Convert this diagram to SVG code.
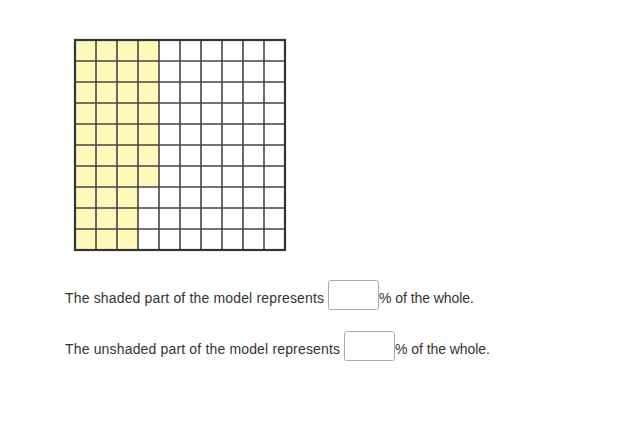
<svg xmlns="http://www.w3.org/2000/svg" width="636" height="446" viewBox="0 0 636 446">
<style>
.t{font-family:"Liberation Sans",Arial,sans-serif;font-size:14px;fill:#333}
.box{fill:#fff;stroke:#aaa;stroke-width:1}
.g{stroke:#444;stroke-width:1.6;fill:none}
</style>
<rect width="636" height="446" fill="#fff"/>
<g id="model">
<path fill="#fff8b8" d="M75 40H159V187H138V250H75Z"/>
<path class="g" d="M96 40V250M117 40V250M138 40V250M159 40V250M180 40V250M201 40V250M222 40V250M243 40V250M264 40V250M75 61H285M75 82H285M75 103H285M75 124H285M75 145H285M75 166H285M75 187H285M75 208H285M75 229H285"/>
<rect x="75" y="40" width="210" height="210" fill="none" stroke="#333" stroke-width="2.2"/>
</g>
<g id="q1">
<text class="t" x="65" y="303" textLength="259" lengthAdjust="spacing">The shaded part of the model represents</text>
<rect class="box" x="328.5" y="280.5" width="50" height="29" rx="2"/>
<text class="t" x="379" y="303" textLength="95" lengthAdjust="spacing">% of the whole.</text>
</g>
<g id="q2">
<text class="t" x="65" y="354" textLength="275" lengthAdjust="spacing">The unshaded part of the model represents</text>
<rect class="box" x="344.5" y="331.5" width="50" height="29" rx="2"/>
<text class="t" x="395" y="354" textLength="95" lengthAdjust="spacing">% of the whole.</text>
</g>
</svg>
